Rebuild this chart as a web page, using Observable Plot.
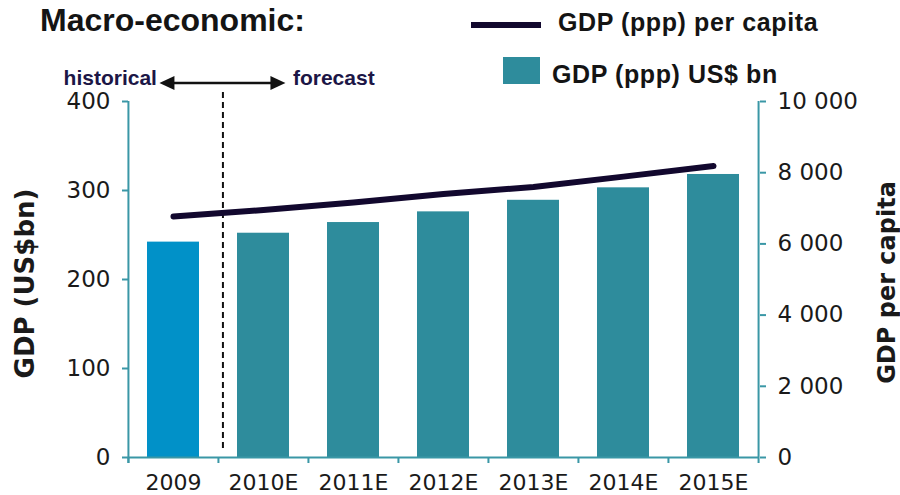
<!DOCTYPE html>
<html><head><meta charset="utf-8">
<script src="https://cdn.jsdelivr.net/npm/d3@7"></script>
<script src="https://cdn.jsdelivr.net/npm/@observablehq/plot@0.6"></script>
<style>
body{margin:0;background:#fff;}
#wrap{position:relative;width:900px;height:495px;overflow:hidden;}
#wrap svg{display:block;}
.lab{position:absolute;white-space:nowrap;line-height:1;font-weight:bold;color:#141414;font-family:"Liberation Sans",Arial,sans-serif;}
</style></head><body>
<div id="wrap"></div>
<script>
// ---- data ----
const years = ["2009","2010E","2011E","2012E","2013E","2014E","2015E"];
const gdpBn = [242, 252, 264, 276, 289, 303, 318];
const gdpPerCapita = [6770, 6950, 7160, 7400, 7600, 7890, 8190];
const historicalYears = ["2009"];
const leftTicks = [0, 100, 200, 300, 400];
const rightTicks = [0, 2000, 4000, 6000, 8000, 10000];
const titleText = "Macro-economic:";
const seriesNames = ["GDP (ppp) per capita", "GDP (ppp) US$ bn"];
const leftTitle = "GDP (US$bn)";
const rightTitle = "GDP per capita";
const annot = ["historical", "forecast"];

// ---- layout / style ----
const W = 900, H = 495, mT = 101, mB = 38, mL = 128, mR = 141;
const leftMax = 400, rightMax = 10000, k = leftMax / rightMax;
const step = (W - mL - mR) / years.length;
const teal = "#2e8c9c", blue = "#0191c8", navy = "#12082e", ink = "#1a1a1a", axisCol = "#3a97a6", annCol = "#1c1646";
const data = years.map((y, i) => ({year: y, bn: gdpBn[i], pc: gdpPerCapita[i], hist: historicalYears.includes(y)}));
const fmt = d3.formatLocale({decimal: ".", thousands: " ", grouping: [3], currency: ["", ""]}).format(",");
const divX = -step / 2 + 4.5; // dashed divider offset from band centre of first forecast year

const chart = Plot.plot({
  width: W, height: H, marginTop: mT, marginBottom: mB, marginLeft: mL, marginRight: mR,
  style: {fontFamily: "'DejaVu Sans', Verdana, sans-serif", background: "transparent"},
  x: {domain: years, paddingInner: 0.42, paddingOuter: 0.21},
  y: {domain: [0, leftMax]},
  marks: [
    Plot.barY(data, {x: "year", y: "bn", fill: d => d.hist ? blue : teal}),
    Plot.ruleY([0], {stroke: axisCol, strokeWidth: 2}),
    Plot.ruleX(years, {x: d => d, y1: 0, y2: 0, insetBottom: -6, dx: -step / 2, stroke: axisCol, strokeWidth: 2}),
    Plot.ruleX([years[0]], {x: d => d, y1: leftMax, y2: 0, insetBottom: -6, dx: -step / 2, stroke: axisCol, strokeWidth: 2}),
    Plot.ruleX([years[years.length - 1]], {x: d => d, y1: leftMax, y2: 0, insetBottom: -6, dx: step / 2, stroke: axisCol, strokeWidth: 2}),
    Plot.axisY(leftTicks, {anchor: "left", tickSize: 6, tickPadding: 12, stroke: axisCol, strokeWidth: 2, fill: ink, fontSize: 23, label: null}),
    Plot.axisY(rightTicks.map(v => v * k), {anchor: "right", tickFormat: d => fmt(Math.round(d / k)), tickSize: 6, tickPadding: 12, stroke: axisCol, strokeWidth: 2, fill: ink, fontSize: 23, label: null}),
    Plot.axisX({tickSize: 0, tickPadding: 16.5, fontSize: 22, fill: ink, label: null}),
    Plot.ruleX([years[1]], {x: d => d, y1: leftMax, y2: 0, insetTop: -9, insetBottom: 8, dx: divX, stroke: "#111", strokeWidth: 2, strokeDasharray: "6,4"}),
    Plot.line(data, {x: "year", y: d => d.pc * k, stroke: navy, strokeWidth: 6, strokeLinecap: "round", strokeLinejoin: "round"}),
    Plot.text([leftTitle], {text: d => d, frameAnchor: "left", dx: -103, dy: 4, rotate: -90, textAnchor: "middle", lineAnchor: "middle", fontSize: 26, fontWeight: "bold", fill: ink}),
    Plot.text([rightTitle], {text: d => d, frameAnchor: "right", dx: 128, dy: 3, rotate: -90, textAnchor: "middle", lineAnchor: "middle", fontSize: 24, fontWeight: "bold", fill: ink}),
    Plot.text([annot[0]], {text: d => d, x: () => years[1], frameAnchor: "top", lineAnchor: "middle", dx: divX - 66, dy: -23.7, textAnchor: "end", fontSize: 21, fontWeight: "bold", fill: annCol, fontFamily: "'Liberation Sans', Arial, sans-serif"}),
    Plot.text([annot[1]], {text: d => d, x: () => years[1], frameAnchor: "top", lineAnchor: "middle", dx: divX + 70, dy: -23.7, textAnchor: "start", fontSize: 21, fontWeight: "bold", fill: annCol, fontFamily: "'Liberation Sans', Arial, sans-serif"})
  ]
});

const wrap = document.getElementById("wrap");
wrap.appendChild(chart);

// double-headed arrow centred on the divider
{
  const xs = chart.scale("x");
  const cx = xs.apply(years[1]) + xs.bandwidth / 2 + divX;
  const cy = mT - 18, half = 63, hl = 15, hw = 7;
  const g = d3.select(chart).append("g").attr("fill", "#111").attr("stroke", "#111");
  g.append("line").attr("x1", cx - half + hl - 1).attr("x2", cx + half - hl + 1).attr("y1", cy).attr("y2", cy).attr("stroke-width", 2.5);
  g.append("path").attr("stroke", "none").attr("d", `M${cx - half},${cy}L${cx - half + hl},${cy - hw}L${cx - half + hl},${cy + hw}Z`);
  g.append("path").attr("stroke", "none").attr("d", `M${cx + half},${cy}L${cx + half - hl},${cy - hw}L${cx + half - hl},${cy + hw}Z`);
}

// title and legend
function addDiv(css, text) {
  const d = document.createElement("div");
  d.style.cssText = css;
  if (text) { d.className = "lab"; d.textContent = text; }
  wrap.appendChild(d);
}
addDiv("left:40px;top:3.6px;font-size:32px;", titleText);
addDiv(`position:absolute;left:471px;top:22px;width:70px;height:6px;background:${navy}`);
addDiv("left:558px;top:9.5px;font-size:25px;letter-spacing:0.6px", seriesNames[0]);
addDiv(`position:absolute;left:503px;top:57px;width:37px;height:27px;background:${teal}`);
addDiv("left:552px;top:61.5px;font-size:25px;letter-spacing:0.6px", seriesNames[1]);
</script>
</body></html>
